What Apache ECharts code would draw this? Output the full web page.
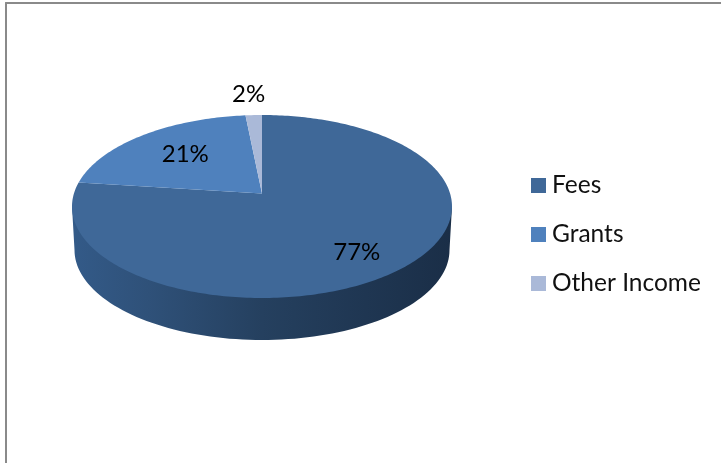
<!DOCTYPE html>
<html><head><meta charset="utf-8">
<style>html,body{margin:0;padding:0;background:#fff}#c{width:721px;height:463px}</style>
<script src="https://cdn.jsdelivr.net/npm/echarts@6/dist/echarts.min.js"></script>
</head><body><div id="c"></div>
<script>
const categories = ['Fees', 'Grants', 'Other Income'];
const values = [77, 21.4, 1.6];
const colors = ['#3f6898', '#4f81bd', '#aab9d8'];

// Layout of the tilted disc (in pixel-scaled axis units)
const labelRadius = [0.78, 0.63, 1.3];
const labelNudge = [[-11, 2], [1, -1], [-3, -1]];
const CX = 262, CY = 206.5, RX = 190, RY = 91.5, APEX = -13;
const C = 2 * APEX / (2 * RY), E = RX * Math.sqrt(1 - C * C);
const total = values.reduce((a, b) => a + b, 0);
function project(deg, r) {
  const t = deg * Math.PI / 180, x = Math.sin(t) * r, y = -Math.cos(t) * r;
  const d = 1 + C * y;
  return [CX + E * x / d, CY + (RY * y + APEX) / d];
}
function startOf(i) { return values.slice(0, i).reduce((a, b) => a + b, 0) / total * 360; }

function renderSlice(params, api) {
  const i = params.seriesIndex;
  const a0 = startOf(i), a1 = a0 + values[i] / total * 360;
  const pts = [api.coord(project(a0, 0))];
  for (let a = a0; a < a1; a += 1) pts.push(api.coord(project(a, 1)));
  pts.push(api.coord(project(a1, 1)));
  const children = [];
  if (i === 0) {
    const wall = [];
    for (let a = 270; a >= 90; a -= 2) {
      const t = a * Math.PI / 180;
      wall.push(api.coord([CX + (RX - 2.5) * Math.sin(t), 250 - 90 * Math.cos(t)]));
    }
    wall.push(api.coord([CX + RX, CY]));
    wall.unshift(api.coord([CX - RX, CY]));
    children.push({
      type: 'polygon', shape: { points: wall },
      style: { fill: new echarts.graphic.LinearGradient(0, 0, 1, 0, [
        { offset: 0, color: '#335a88' }, { offset: 0.2, color: '#2f5179' },
        { offset: 0.5, color: '#25405f' }, { offset: 1, color: '#1a2e47' }]) }
    });
  }
  children.push({ type: 'polygon', shape: { points: pts }, style: { fill: api.visual('color') } });
  return { type: 'group', children: children };
}
function renderLabel(params, api) {
  const i = params.dataIndex;
  const a0 = startOf(i), a1 = a0 + values[i] / total * 360;
  const p = api.coord(project((a0 + a1) / 2, labelRadius[i]));
  return { type: 'text', x: p[0] + labelNudge[i][0], y: p[1] + labelNudge[i][1], style: {
    text: Math.round(values[i]) + '%', font: '24px Lato', fill: '#000', align: 'center', verticalAlign: 'middle' } };
}

const series = categories.map((name, i) => ({
  name, type: 'custom', coordinateSystem: 'cartesian2d', renderItem: renderSlice,
  itemStyle: { color: colors[i] }, data: [[CX, CY, values[i]]], silent: true, z: 2
}));
series.push({ type: 'custom', coordinateSystem: 'cartesian2d', renderItem: renderLabel,
  data: values.map(v => [CX, CY, v]), silent: true, z: 5 });

const chart = echarts.init(document.getElementById('c'), null, { renderer: 'canvas' });
chart.setOption({
  animation: false,
  backgroundColor: '#fff',
  grid: { left: 6, top: 3, right: 0, bottom: 0 },
  xAxis: { type: 'value', min: 6, max: 721, position: 'top', splitLine: { show: false },
    axisTick: { show: false }, axisLabel: { show: false },
    axisLine: { show: true, onZero: false, lineStyle: { color: '#8a8a8a', width: 2 } } },
  yAxis: { type: 'value', min: 3, max: 463, inverse: true, position: 'left', splitLine: { show: false },
    axisTick: { show: false }, axisLabel: { show: false },
    axisLine: { show: true, onZero: false, lineStyle: { color: '#8a8a8a', width: 2 } } },
  legend: { data: categories, orient: 'vertical', left: 526, top: 168, icon: 'rect',
    itemWidth: 15, itemHeight: 15, itemGap: 24, selectedMode: false,
    textStyle: { fontFamily: 'Lato', fontSize: 24.5, color: '#111', padding: [0, 0, 0, 1] } },
  series
});
</script></body></html>
